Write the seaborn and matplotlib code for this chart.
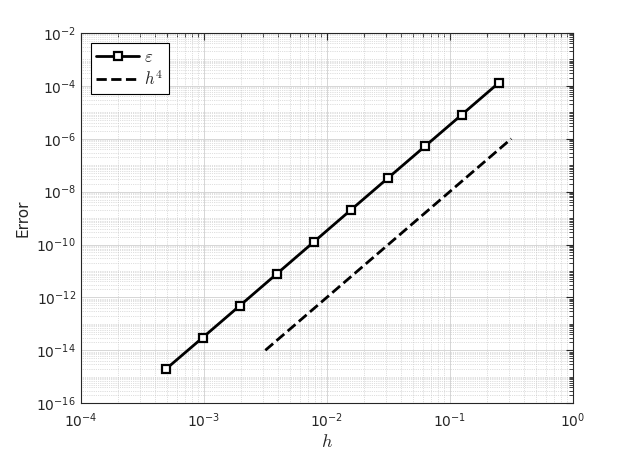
import numpy as np
import pandas as pd
import seaborn as sns
import matplotlib.pyplot as plt
from matplotlib.ticker import LogLocator, NullFormatter

# mesh sizes and measured error
h = [0.25, 0.125, 0.0625, 0.03125, 0.015625, 0.0078125,
     0.00390625, 0.001953125, 0.0009765625, 0.00048828125]
err = [1.3e-4, 8.1e-6, 5.1e-7, 3.2e-8, 2.0e-9, 1.24e-10,
       7.7e-12, 4.8e-13, 3.0e-14, 1.9e-15]

# reference slope line
h_ref = [0.00316, 0.316]
err_ref = [1e-14, 1e-6]

sns.set_style("white")
plt.rcParams['font.family'] = ['DejaVu Sans']
plt.rcParams['mathtext.fontset'] = 'cm'

fig = plt.figure(figsize=(6.22, 4.51), dpi=100)
ax = fig.add_axes([0.13, 0.106, 0.791, 0.821])

df = pd.DataFrame({'h': h, 'err': err})
df_ref = pd.DataFrame({'h': h_ref, 'err': err_ref})

sns.lineplot(data=df, x='h', y='err', ax=ax, color='black', linewidth=2,
             marker='s', markersize=6, markerfacecolor='white',
             markeredgecolor='black', markeredgewidth=1.6, label=r'$\varepsilon$')
sns.lineplot(data=df_ref, x='h', y='err', ax=ax, color='black', linewidth=2,
             linestyle='--', label=r'$h^4$')

ax.set_xscale('log')
ax.set_yscale('log')
ax.set_xlim(1e-4, 1)
ax.set_ylim(1e-16, 1e-2)

ax.set_xticks([1e-4, 1e-3, 1e-2, 1e-1, 1])
ax.set_yticks([10.0 ** k for k in range(-16, -1, 2)])
ax.xaxis.set_minor_locator(LogLocator(base=10, subs=np.arange(2, 10), numticks=20))
ax.yaxis.set_minor_locator(LogLocator(base=10, subs=np.arange(1, 10), numticks=40))
ax.xaxis.set_minor_formatter(NullFormatter())
ax.yaxis.set_minor_formatter(NullFormatter())

ax.grid(True, which='major', color='#d0d0d0', linewidth=0.6, linestyle='-')
ax.grid(True, which='minor', color='#c0c0c0', linewidth=0.5, linestyle=':')
ax.set_axisbelow(True)

ax.tick_params(which='both', direction='in', top=True, right=True,
               labelsize=10, colors='#262626')
ax.tick_params(axis='x', pad=6)
ax.tick_params(which='major', length=5, width=0.8)
ax.tick_params(which='minor', length=3, width=0.6)
for s in ax.spines.values():
    s.set_color('#262626')
    s.set_linewidth(0.8)

ax.set_xlabel(r'$h$', fontsize=13, color='#262626', labelpad=2)
ax.set_ylabel('Error', fontsize=11, color='#262626')

leg = ax.legend(loc='upper left', fontsize=12, frameon=True, fancybox=False,
                edgecolor='black', framealpha=1, handlelength=2.6,
                borderpad=0.3, labelspacing=0.25, handletextpad=0.3,
                borderaxespad=0.6)
leg.get_frame().set_linewidth(0.8)

fig.savefig('out.png', dpi=100)
